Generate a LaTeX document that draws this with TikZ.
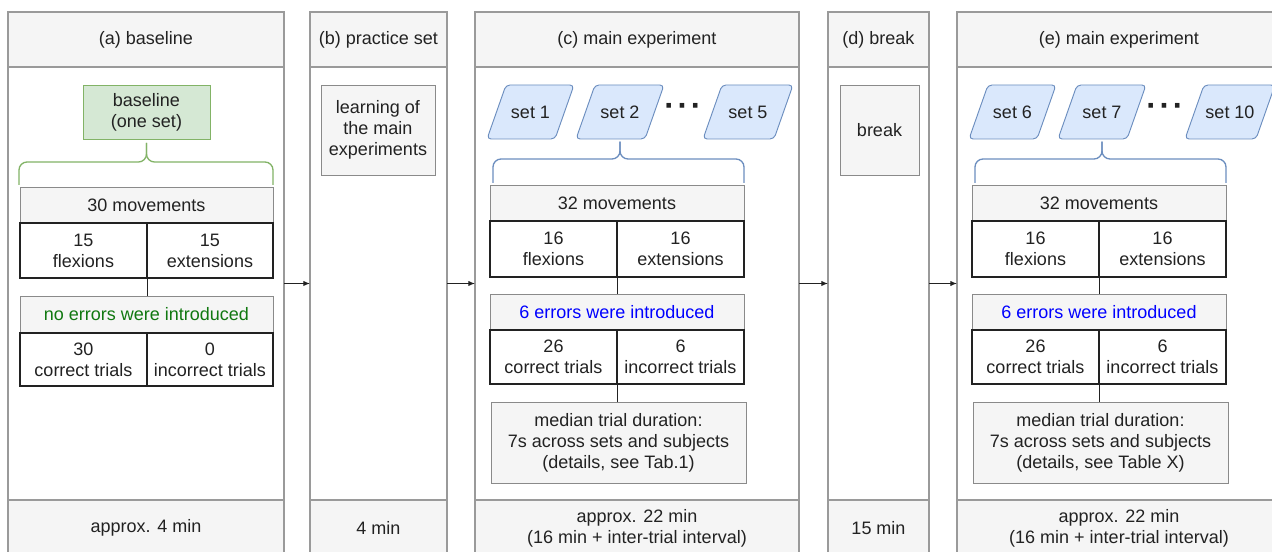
\documentclass[tikz,border=0pt]{standalone}
\usepackage{fontspec}
\setmainfont{Liberation Sans}
\usetikzlibrary{arrows.meta}
\definecolor{pborder}{HTML}{9A9A9A}
\definecolor{hfill}{HTML}{F5F5F5}
\definecolor{gfill}{HTML}{D5E8D4}
\definecolor{gline}{HTML}{82B366}
\definecolor{bfill}{HTML}{DAE8FC}
\definecolor{bline}{HTML}{6C8EBF}
\definecolor{txt}{HTML}{222222}
\definecolor{gtext}{HTML}{107810}
\definecolor{btext}{HTML}{0000FF}
\definecolor{cellline}{HTML}{222222}
\definecolor{boxline}{HTML}{8A8A8A}

\newcommand\mybox[7]{%
 \pgfmathsetmacro\mybw{(#4-#2)*0.75}%
 \pgfmathsetmacro\mybh{(#5-#3)*0.75}%
 \node[#6, minimum width=\mybw pt, minimum height=\mybh pt] (#1) at ({(#2+#4)/2},{(#3+#5)/2}) {#7};}

% parallelogram: name, x1, y1, x2, y2, text  (slant 19px)
\newcommand\mypara[6]{%
 \draw[setshape] (#2,#5) -- ({#4-19},#5) -- (#4,#3) -- ({#2+19},#3) -- cycle;
 \node (#1) at ({(#2+#4)/2},{(#3+#5)/2}) {#6};
 \coordinate (#1-bot) at ({(#2+#4)/2},#5);}

\tikzset{
 every node/.style={inner sep=0pt, outer sep=0pt, align=center, text=txt, font=\fontsize{13.5}{15.75}\selectfont},
 panel/.style={draw=pborder, line width=0.8pt},
 hdr/.style={panel, fill=hfill},
 bodybox/.style={panel, fill=white},
 graybox/.style={draw=boxline, fill=hfill, line width=0.7pt},
 cell/.style={draw=cellline, fill=white, line width=0.8pt},
 greenbox/.style={draw=gline, fill=gfill, line width=0.7pt},
 setshape/.style={draw=bline, fill=bfill, rounded corners=3pt, line width=0.7pt},
 brace/.style={line width=1pt, rounded corners=6pt},
 link/.style={draw=cellline, line width=0.7pt},
 arr/.style={draw=txt, line width=0.7pt, -{Latex[length=5pt,width=4pt]}},
 dotsnode/.style={font=\fontsize{24}{24}\selectfont\bfseries}
}

\newcommand\mainpanel[7]{%
\begin{scope}[shift={(#1,0)}, name prefix=#2-]
\mybox{hdr}{475}{12}{799}{67}{hdr}{#3}
\mybox{body}{475}{67}{799}{500}{bodybox}{}
\mybox{foot}{475}{500}{799}{556}{hdr}{approx. 22 min\\(16 min + inter-trial interval)}
\mypara{s1}{487}{85}{574}{139}{#4}
\mypara{s2}{576}{85}{664}{139}{#5}
\node[dotsnode] (dots) at (683,110) {·\hspace{2pt}·\hspace{2pt}·};
\mypara{s3}{703}{85}{793}{139}{#6}
\draw[brace, bline] ([yshift=-2pt]s2-bot) -- (s2-bot |- 0,159) -- (493,159) -- (493,183);
\draw[brace, bline] ([yshift=-2pt]s2-bot) -- (s2-bot |- 0,159) -- (744,159) -- (744,183);
\mybox{mov}{490}{185}{744}{221}{graybox}{32 movements}
\mybox{fl}{490}{221}{617}{277}{cell}{16\\flexions}
\mybox{ex}{617}{221}{744}{277}{cell}{16\\extensions}
\mybox{ne}{490}{294}{744}{330}{graybox,text=btext}{6 errors were introduced}
\mybox{co}{490}{330}{617}{384}{cell}{26\\correct trials}
\mybox{in}{617}{330}{744}{384}{cell}{6\\incorrect trials}
\mybox{med}{491}{402}{746}{483}{graybox}{median trial duration:\\7s across sets and subjects\\#7}
\draw[link] (fl.south east) -- (fl.south east |- ne.north);
\draw[link] (co.south east) -- (co.south east |- med.north);
\end{scope}}

\begin{document}
\begin{tikzpicture}[x=0.75pt,y=-0.75pt]
\useasboundingbox (0,0) rectangle (1272,552);
\clip (0,0) rectangle (1272,552);

% (a) baseline
\mybox{a-hdr}{8}{12}{284}{67}{hdr}{(a) baseline}
\mybox{a-body}{8}{67}{284}{500}{bodybox}{}
\mybox{a-foot}{8}{500}{284}{556}{hdr}{approx. 4 min}
\mybox{base}{83}{85}{210}{139}{greenbox}{baseline\\(one set)}
\draw[brace, gline] ([yshift=-3pt]base.south) -- (base.south |- 0,162) -- (19,162) -- (19,185);
\draw[brace, gline] ([yshift=-3pt]base.south) -- (base.south |- 0,162) -- (273,162) -- (273,185);
\mybox{mova}{20}{187}{273}{223}{graybox}{30 movements}
\mybox{fla}{20}{223}{147}{278}{cell}{15\\flexions}
\mybox{exa}{147}{223}{273}{278}{cell}{15\\extensions}
\mybox{nea}{20}{296}{273}{333}{graybox,text=gtext}{no errors were introduced}
\mybox{coa}{20}{333}{147}{386}{cell}{30\\correct trials}
\mybox{ina}{147}{333}{273}{386}{cell}{0\\incorrect trials}
\draw[link] (fla.south east) -- (fla.south east |- nea.north);

% (b) practice set
\mybox{b-hdr}{310}{12}{447}{67}{hdr}{(b) practice set}
\mybox{b-body}{310}{67}{447}{500}{bodybox}{}
\mybox{b-foot}{310}{500}{447}{556}{hdr}{4 min}
\mybox{learn}{321}{85}{435}{175}{graybox}{learning of\\the main\\experiments}

% (c) main experiment
\mainpanel{0}{c}{(c) main experiment}{set 1}{set 2}{set 5}{(details, see Tab.1)}

% (d) break
\mybox{d-hdr}{828}{12}{929}{67}{hdr}{(d) break}
\mybox{d-body}{828}{67}{929}{500}{bodybox}{}
\mybox{d-foot}{828}{500}{929}{556}{hdr}{15 min}
\mybox{brk}{840}{85}{919}{175}{graybox}{break}

% (e) main experiment
\mainpanel{482}{e}{(e) main experiment}{set 6}{set 7}{set 10}{(details, see Table X)}

% arrows between panels
\draw[arr] (a-body.east) -- (b-body.west);
\draw[arr] (b-body.east) -- (c-body.west);
\draw[arr] (c-body.east) -- (d-body.west);
\draw[arr] (d-body.east) -- (e-body.west);
\end{tikzpicture}
\end{document}
